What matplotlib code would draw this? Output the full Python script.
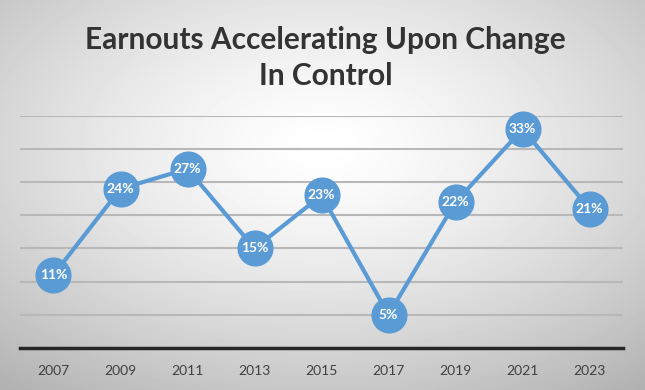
import numpy as np
import matplotlib.pyplot as plt

years = ["2007", "2009", "2011", "2013", "2015", "2017", "2019", "2021", "2023"]
pct = [11, 24, 27, 15, 23, 5, 22, 33, 21]

plt.rcParams['font.family'] = ['Lato', 'DejaVu Sans']

fig = plt.figure(figsize=(6.45, 3.9), dpi=100)

# radial grey background
bg = fig.add_axes([0, 0, 1, 1], zorder=0)
yy, xx = np.mgrid[-1:1:390j, -1:1:645j]
r = np.sqrt(xx**2 + (yy + 0.25)**2) / np.sqrt(2)
bg.imshow(1 - 0.26 * r**1.4, cmap='gray', vmin=0, vmax=1, aspect='auto',
          extent=[0, 1, 0, 1])
bg.axis('off')

ax = fig.add_axes([0.031, 0.108, 0.935, 0.595], zorder=1)
ax.patch.set_alpha(0)
x = np.arange(len(years))
ax.plot(x, pct, color='#5B9BD5', lw=3, marker='o', ms=25,
        mec='#5B9BD5', mfc='#5B9BD5', zorder=3, clip_on=False)
for xi, v in zip(x, pct):
    ax.text(xi, v, f"{v}%", color='white', fontsize=10, fontweight='bold',
            ha='center', va='center', zorder=4)

ax.set_xlim(-0.5, len(years) - 0.5)
ax.set_ylim(0, 35)
ax.set_yticks(range(5, 36, 5))
ax.yaxis.grid(True, color='#b8b8b8', lw=1.5)
ax.set_axisbelow(True)
ax.tick_params(left=False, labelleft=False, bottom=False, pad=9)
ax.set_xticks(x)
ax.set_xticklabels(years, fontsize=10, color='#404040')
for s in ['top', 'left', 'right']:
    ax.spines[s].set_visible(False)
ax.spines['bottom'].set_color('#262626')
ax.spines['bottom'].set_linewidth(2.5)

fig.text(0.505, 0.852, "Earnouts Accelerating Upon Change\nIn Control",
         ha='center', va='center', fontsize=21.5, fontweight='bold',
         color='#333333', linespacing=1.35)

fig.savefig("out.png", dpi=100)
